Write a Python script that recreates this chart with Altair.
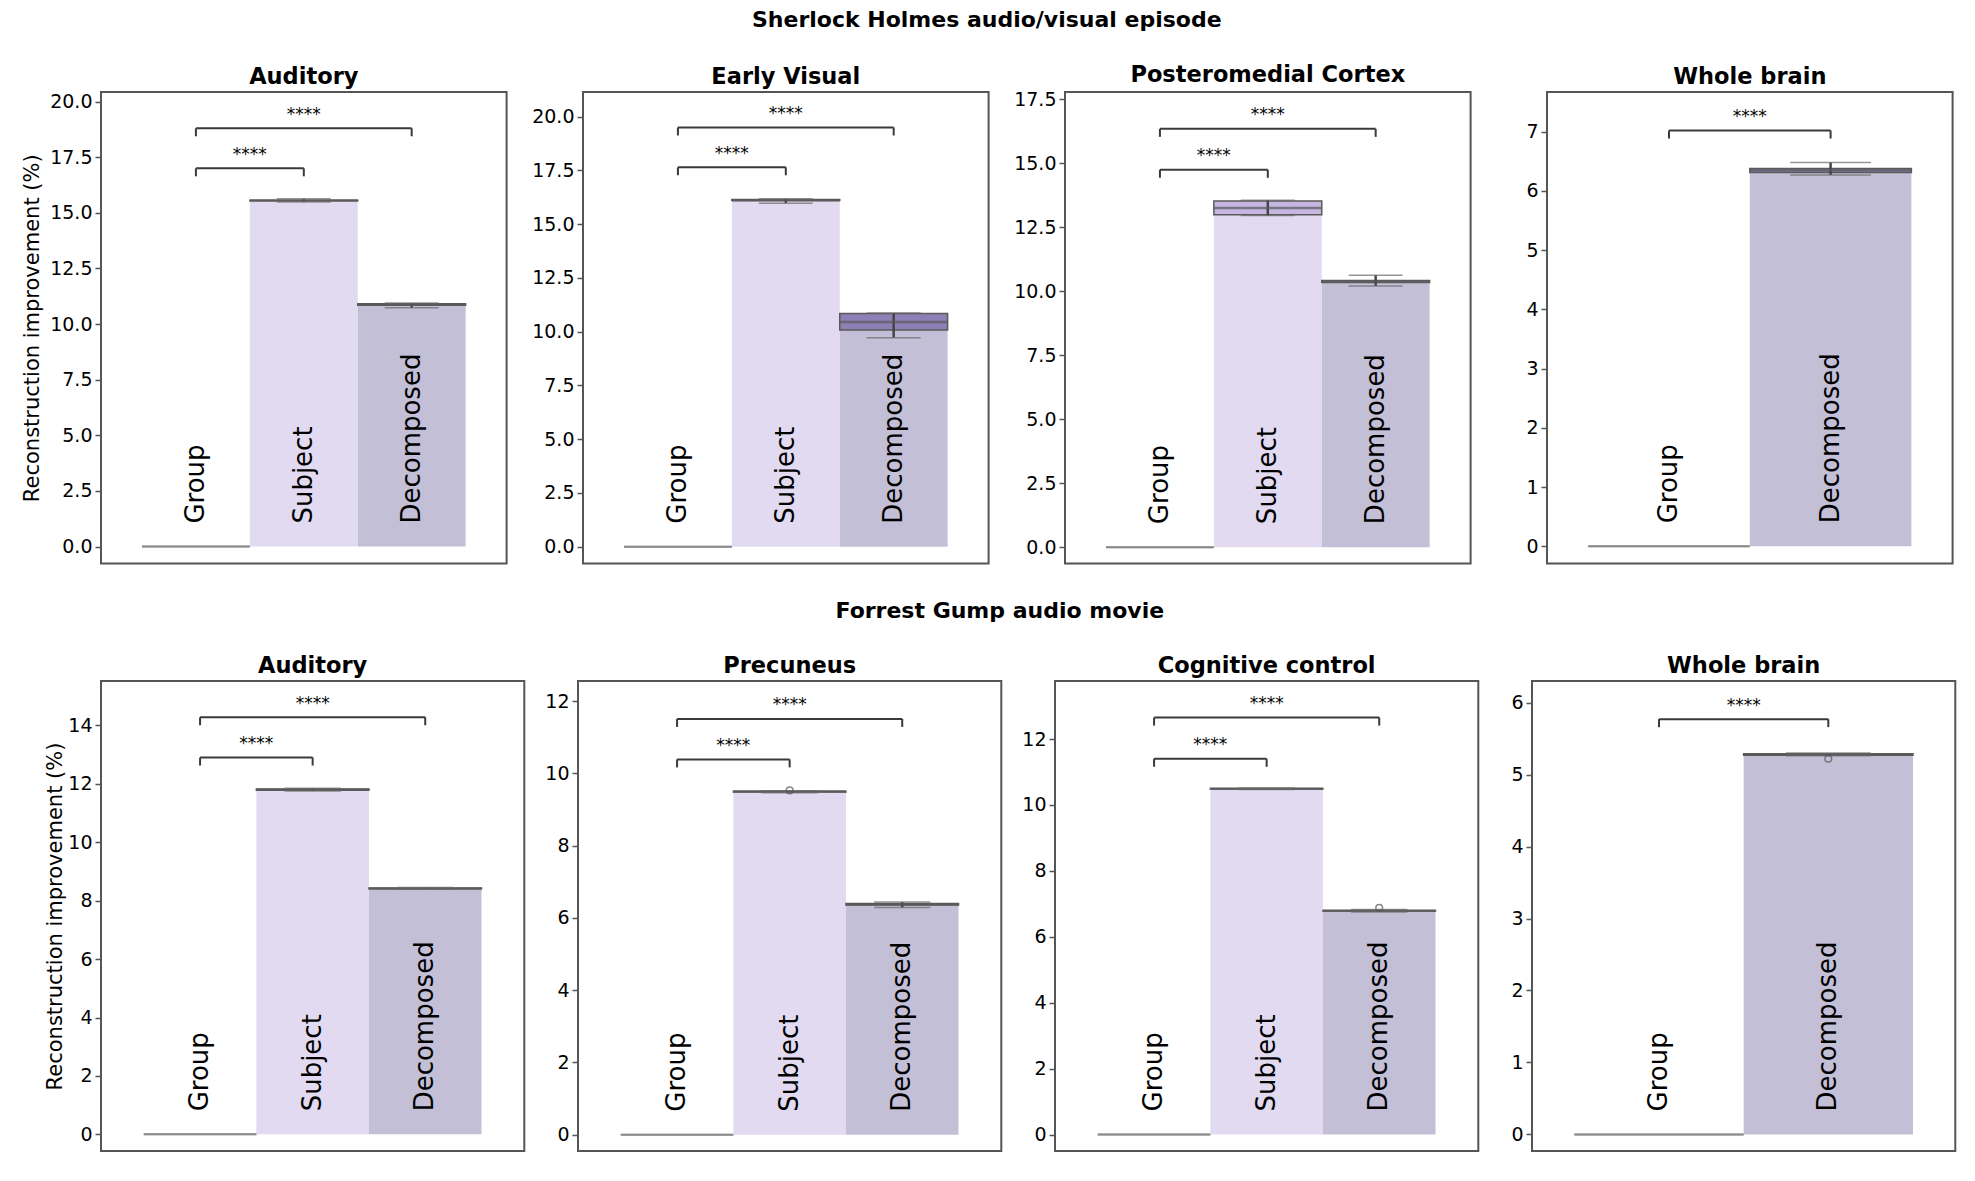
import altair as alt
import pandas as pd

G, S, D = "Group", "Subject", "Decomposed"
CATS3 = [G, S, D]
CATS2 = [G, D]

ROW_TITLES = ["Sherlock Holmes audio/visual episode", "Forrest Gump audio movie"]
Y_TITLE = "Reconstruction improvement (%)"

# ---------------- Sherlock Holmes ----------------
sh_aud_title = "Auditory"
sh_aud_mean = [0.0, 15.55, 10.88]
sh_aud_q1 = [0.0, 15.54, 10.85]
sh_aud_med = [0.0, 15.55, 10.88]
sh_aud_q3 = [0.0, 15.57, 10.91]
sh_aud_lo = [0.0, 15.49, 10.73]
sh_aud_hi = [0.0, 15.63, 10.95]
sh_aud_out_cat, sh_aud_out_val = [], []
sh_aud_sig = [17.0, 18.8]
sh_aud_ylim = [-0.76, 20.43]
sh_aud_ticks = [0, 2.5, 5, 7.5, 10, 12.5, 15, 17.5, 20]

sh_ev_title = "Early Visual"
sh_ev_mean = [0.0, 16.12, 10.45]
sh_ev_q1 = [0.0, 16.10, 10.08]
sh_ev_med = [0.0, 16.12, 10.45]
sh_ev_q3 = [0.0, 16.15, 10.85]
sh_ev_lo = [0.0, 15.98, 9.72]
sh_ev_hi = [0.0, 16.19, 10.87]
sh_ev_out_cat, sh_ev_out_val = [], []
sh_ev_sig = [17.65, 19.5]
sh_ev_ylim = [-0.78, 21.15]
sh_ev_ticks = [0, 2.5, 5, 7.5, 10, 12.5, 15, 17.5, 20]

sh_pmc_title = "Posteromedial Cortex"
sh_pmc_mean = [0.0, 13.25, 10.38]
sh_pmc_q1 = [0.0, 12.99, 10.34]
sh_pmc_med = [0.0, 13.26, 10.38]
sh_pmc_q3 = [0.0, 13.53, 10.42]
sh_pmc_lo = [0.0, 12.96, 10.21]
sh_pmc_hi = [0.0, 13.56, 10.63]
sh_pmc_out_cat, sh_pmc_out_val = [], []
sh_pmc_sig = [14.75, 16.35]
sh_pmc_ylim = [-0.64, 17.79]
sh_pmc_ticks = [0, 2.5, 5, 7.5, 10, 12.5, 15, 17.5]

sh_wb_title = "Whole brain"
sh_wb_mean = [0.0, 6.35]
sh_wb_q1 = [0.0, 6.31]
sh_wb_med = [0.0, 6.35]
sh_wb_q3 = [0.0, 6.38]
sh_wb_lo = [0.0, 6.27]
sh_wb_hi = [0.0, 6.48]
sh_wb_out_cat, sh_wb_out_val = [], []
sh_wb_sig = [7.02]
sh_wb_ylim = [-0.29, 7.67]
sh_wb_ticks = [0, 1, 2, 3, 4, 5, 6, 7]

# ---------------- Forrest Gump ----------------
fg_aud_title = "Auditory"
fg_aud_mean = [0.0, 11.80, 8.42]
fg_aud_q1 = [0.0, 11.78, 8.41]
fg_aud_med = [0.0, 11.80, 8.42]
fg_aud_q3 = [0.0, 11.82, 8.43]
fg_aud_lo = [0.0, 11.75, 8.39]
fg_aud_hi = [0.0, 11.85, 8.45]
fg_aud_out_cat, fg_aud_out_val = [], []
fg_aud_sig = [12.9, 14.28]
fg_aud_ylim = [-0.57, 15.52]
fg_aud_ticks = [0, 2, 4, 6, 8, 10, 12, 14]

fg_prec_title = "Precuneus"
fg_prec_mean = [0.0, 9.50, 6.38]
fg_prec_q1 = [0.0, 9.49, 6.36]
fg_prec_med = [0.0, 9.50, 6.38]
fg_prec_q3 = [0.0, 9.51, 6.40]
fg_prec_lo = [0.0, 9.47, 6.29]
fg_prec_hi = [0.0, 9.52, 6.44]
fg_prec_out_cat, fg_prec_out_val = [S], [9.53]
fg_prec_sig = [10.39, 11.51]
fg_prec_ylim = [-0.45, 12.56]
fg_prec_ticks = [0, 2, 4, 6, 8, 10, 12]

fg_cc_title = "Cognitive control"
fg_cc_mean = [0.0, 10.49, 6.79]
fg_cc_q1 = [0.0, 10.48, 6.78]
fg_cc_med = [0.0, 10.49, 6.79]
fg_cc_q3 = [0.0, 10.50, 6.80]
fg_cc_lo = [0.0, 10.47, 6.75]
fg_cc_hi = [0.0, 10.51, 6.83]
fg_cc_out_cat, fg_cc_out_val = [D], [6.88]
fg_cc_sig = [11.4, 12.65]
fg_cc_ylim = [-0.50, 13.76]
fg_cc_ticks = [0, 2, 4, 6, 8, 10, 12]

fg_wb_title = "Whole brain"
fg_wb_mean = [0.0, 5.28]
fg_wb_q1 = [0.0, 5.27]
fg_wb_med = [0.0, 5.28]
fg_wb_q3 = [0.0, 5.29]
fg_wb_lo = [0.0, 5.26]
fg_wb_hi = [0.0, 5.30]
fg_wb_out_cat, fg_wb_out_val = [D], [5.22]
fg_wb_sig = [5.77]
fg_wb_ylim = [-0.23, 6.30]
fg_wb_ticks = [0, 1, 2, 3, 4, 5, 6]

# ---------------- styles ----------------
FONT = "DejaVu Sans"
SUBJ_FILL = "#E2DAF0"
DEC_FILL = "#C3BFD6"
SUBJ_BOX = "#C6B6E2"
DEC_BOX = "#8C80B4"
GROUP_LINE = "#8a8a8a"
BOX_LINE = "#5a5a5a"


def panel(title, cats, mean, q1, med, q3, lo, hi, out_cat, out_val, sig, ylim,
          ticks, fmt, width, height, po, ytitle=None, extent=None, tpad=None):
    step = width / (len(cats) + 2 * po)
    xs = alt.Scale(domain=cats, paddingInner=0, paddingOuter=po)
    ys = alt.Scale(domain=ylim, nice=False, zero=False)
    if ytitle:
        axis = alt.Axis(values=ticks, format=fmt, title=ytitle,
                        minExtent=extent, maxExtent=extent, titlePadding=tpad)
    else:
        axis = alt.Axis(values=ticks, format=fmt, title=None)

    def X(f, bp=None):
        if bp is None:
            return alt.X(f"{f}:N", scale=xs, axis=None)
        return alt.X(f"{f}:N", scale=xs, axis=None, bandPosition=bp)

    def Y(f):
        return alt.Y(f"{f}:Q", scale=ys, axis=axis)

    df = pd.DataFrame({"cat": cats, "mean": mean, "q1": q1, "med": med,
                       "q3": q3, "lo": lo, "hi": hi})

    bars = alt.Chart(df).mark_bar().encode(
        x=X("cat"), y=Y("mean"),
        color=alt.condition(alt.datum.cat == S, alt.value(SUBJ_FILL), alt.value(DEC_FILL)))

    box = alt.Chart(df).mark_bar(strokeWidth=1.5).encode(
        x=X("cat"), y=Y("q1"), y2=alt.Y2("q3"),
        fill=alt.condition(alt.datum.cat == S, alt.value(SUBJ_BOX), alt.value(DEC_BOX)),
        stroke=alt.condition(alt.datum.cat == G, alt.value(GROUP_LINE), alt.value(BOX_LINE)))

    nz = alt.Chart(df).transform_filter(alt.datum.cat != G)
    whisk = nz.mark_rule(color="#454545", strokeWidth=2.5).encode(
        x=X("cat"), y=Y("lo"), y2=alt.Y2("hi"))
    cap_lo = nz.mark_tick(orient="horizontal", size=step * 0.5, thickness=1.5,
                          color="#6a6a6a").encode(x=X("cat"), y=Y("lo"))
    cap_hi = nz.mark_tick(orient="horizontal", size=step * 0.5, thickness=1.5,
                          color="#6a6a6a").encode(x=X("cat"), y=Y("hi"))
    median = alt.Chart(df).mark_tick(orient="horizontal", size=step, thickness=2.5).encode(
        x=X("cat"), y=Y("med"),
        color=alt.condition(alt.datum.cat == G, alt.value(GROUP_LINE), alt.value(BOX_LINE)))

    layers = [bars, box, whisk, median, cap_lo, cap_hi]

    if out_cat:
        odf = pd.DataFrame({"cat": out_cat, "v": out_val})
        layers.append(alt.Chart(odf).mark_point(shape="circle", filled=False, size=45,
                                                strokeWidth=1.5, color="#555555").encode(
            x=X("cat"), y=Y("v")))

    targets = cats[1:]
    rows = []
    for t, h in zip(targets, sig):
        idx = cats.index(t)
        if idx == 1:
            rows.append({"c1": G, "c2": t, "h": h, "mid": t, "kind": "edge"})
        else:
            rows.append({"c1": G, "c2": t, "h": h, "mid": cats[1], "kind": "center"})
    sdf = pd.DataFrame(rows)
    sc = alt.Chart(sdf)
    layers.append(sc.mark_rule(color="#3a3a3a", strokeWidth=2).encode(
        x=X("c1"), x2=alt.X2("c2"), y=Y("h")))
    layers.append(sc.mark_rule(color="#3a3a3a", strokeWidth=2, y2Offset=8).encode(
        x=X("c1"), y=Y("h"), y2=alt.Y2("h")))
    layers.append(sc.mark_rule(color="#3a3a3a", strokeWidth=2, y2Offset=8).encode(
        x=X("c2"), y=Y("h"), y2=alt.Y2("h")))
    layers.append(sc.transform_filter(alt.datum.kind == "edge").mark_text(
        text="****", fontSize=17, baseline="alphabetic", yOffset=-8.5, color="black").encode(
        x=X("mid", 0), y=Y("h")))
    layers.append(sc.transform_filter(alt.datum.kind == "center").mark_text(
        text="****", fontSize=17, baseline="alphabetic", yOffset=-8.5, color="black").encode(
        x=X("mid", 0.5), y=Y("h")))

    ldf = pd.DataFrame({"cat": cats, "zero": [0.0] * len(cats)})
    layers.append(alt.Chart(ldf).mark_text(angle=270, align="left", baseline="middle",
                                           fontSize=26, yOffset=-23, color="black").encode(
        x=X("cat"), y=Y("zero"), text="cat:N"))

    return alt.layer(*layers).properties(
        width=width, height=height,
        title=alt.TitleParams(title, fontSize=22.5, fontWeight="bold", offset=4,
                              color="black", font=FONT))


TW, TH = 405.6, 471.5
BW, BH = 423.3, 470

top = alt.hconcat(
    panel(sh_aud_title, CATS3, sh_aud_mean, sh_aud_q1, sh_aud_med, sh_aud_q3, sh_aud_lo,
          sh_aud_hi, sh_aud_out_cat, sh_aud_out_val, sh_aud_sig, sh_aud_ylim, sh_aud_ticks,
          ".1f", TW, TH, 0.38, Y_TITLE, 51, 8),
    panel(sh_ev_title, CATS3, sh_ev_mean, sh_ev_q1, sh_ev_med, sh_ev_q3, sh_ev_lo,
          sh_ev_hi, sh_ev_out_cat, sh_ev_out_val, sh_ev_sig, sh_ev_ylim, sh_ev_ticks,
          ".1f", TW, TH, 0.38),
    panel(sh_pmc_title, CATS3, sh_pmc_mean, sh_pmc_q1, sh_pmc_med, sh_pmc_q3, sh_pmc_lo,
          sh_pmc_hi, sh_pmc_out_cat, sh_pmc_out_val, sh_pmc_sig, sh_pmc_ylim, sh_pmc_ticks,
          ".1f", TW, TH, 0.38),
    panel(sh_wb_title, CATS2, sh_wb_mean, sh_wb_q1, sh_wb_med, sh_wb_q3, sh_wb_lo,
          sh_wb_hi, sh_wb_out_cat, sh_wb_out_val, sh_wb_sig, sh_wb_ylim, sh_wb_ticks,
          "d", TW, TH, 0.255),
    spacing=76,
).properties(
    bounds="flush",
    title=alt.TitleParams(ROW_TITLES[0], fontSize=22, fontWeight="bold", anchor="middle",
                          offset=31, color="black", font=FONT))

bottom = alt.hconcat(
    panel(fg_aud_title, CATS3, fg_aud_mean, fg_aud_q1, fg_aud_med, fg_aud_q3, fg_aud_lo,
          fg_aud_hi, fg_aud_out_cat, fg_aud_out_val, fg_aud_sig, fg_aud_ylim, fg_aud_ticks,
          "d", BW, BH, 0.38, Y_TITLE, 33, 2.7),
    panel(fg_prec_title, CATS3, fg_prec_mean, fg_prec_q1, fg_prec_med, fg_prec_q3, fg_prec_lo,
          fg_prec_hi, fg_prec_out_cat, fg_prec_out_val, fg_prec_sig, fg_prec_ylim,
          fg_prec_ticks, "d", BW, BH, 0.38),
    panel(fg_cc_title, CATS3, fg_cc_mean, fg_cc_q1, fg_cc_med, fg_cc_q3, fg_cc_lo,
          fg_cc_hi, fg_cc_out_cat, fg_cc_out_val, fg_cc_sig, fg_cc_ylim, fg_cc_ticks,
          "d", BW, BH, 0.38),
    panel(fg_wb_title, CATS2, fg_wb_mean, fg_wb_q1, fg_wb_med, fg_wb_q3, fg_wb_lo,
          fg_wb_hi, fg_wb_out_cat, fg_wb_out_val, fg_wb_sig, fg_wb_ylim, fg_wb_ticks,
          "d", BW, BH, 0.25),
    spacing=53,
).properties(
    bounds="flush",
    title=alt.TitleParams(ROW_TITLES[1], fontSize=22, fontWeight="bold", anchor="middle",
                          offset=31, color="black", font=FONT))

chart = alt.vconcat(top, bottom, spacing=34).properties(
    padding={"left": 12, "top": 0, "right": 0, "bottom": 0},
).configure(font=FONT).configure_view(
    stroke="#555555", strokeWidth=2
).configure_axis(
    labelFont=FONT, labelFontSize=19, labelColor="black", labelPadding=3,
    tickColor="#555555", tickWidth=1.5, tickSize=6, domain=False, grid=False,
    titleFont=FONT, titleFontSize=21, titleFontWeight="normal", titleColor="black",
)

chart.save("out.html", embed_options={"renderer": "svg", "actions": False})
